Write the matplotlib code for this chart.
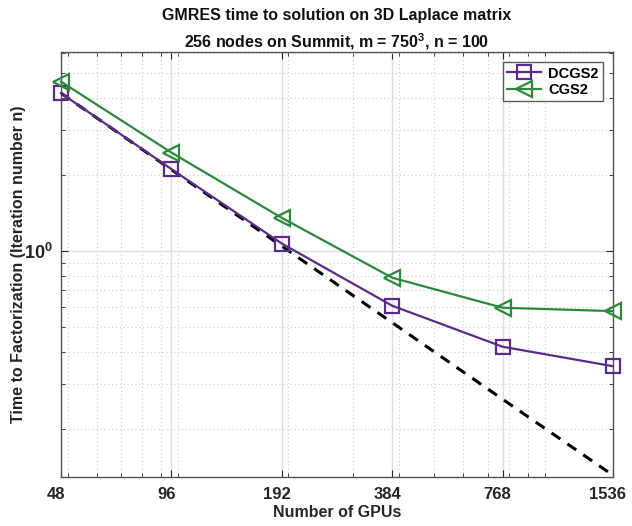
import numpy as np
import matplotlib
matplotlib.use('Agg')
import matplotlib.pyplot as plt
from matplotlib import ticker, transforms

plt.rcParams['font.family'] = ['Liberation Sans', 'DejaVu Sans']
plt.rcParams['font.weight'] = 'bold'
plt.rcParams['mathtext.fontset'] = 'custom'
plt.rcParams['mathtext.rm'] = 'Liberation Sans'
plt.rcParams['mathtext.bf'] = 'Liberation Sans:bold'

# values
gpus = [48, 96, 192, 384, 768, 1536]
dcgs2 = [4.18, 2.10, 1.07, 0.609, 0.42, 0.352]
cgs2 = [4.64, 2.44, 1.35, 0.785, 0.598, 0.58]
ideal = [4.18, 2.09, 1.045, 0.5225, 0.261, 0.131]
xticklabels = ['48', '96', '192', '384', '768', '1536']

purple = '#5b2a8c'
green = '#2b8a3a'

fig = plt.figure(figsize=(6.32, 5.26), dpi=100)
ax = fig.add_axes([61/632, 49/526, 552/632, 425/526])
ax.set_xscale('log')
ax.set_yscale('log')

ax.plot(gpus, ideal, '--', color='k', lw=2.2, dashes=(3.5, 2.8), zorder=3)
ax.plot(gpus, dcgs2, '-s', color=purple, lw=1.6, ms=10, mfc='none', mew=1.6,
        label='DCGS2', clip_on=False, zorder=4)
ax.plot(gpus, cgs2, '-<', color=green, lw=1.6, ms=12, mfc='none', mew=1.6,
        label='CGS2', clip_on=False, zorder=4)

ax.set_xlim(48, 1536)
ax.set_ylim(0.129, 6.07)

ax.xaxis.set_major_locator(ticker.FixedLocator(gpus))
ax.xaxis.set_major_formatter(ticker.FixedFormatter(xticklabels))
ax.xaxis.set_minor_locator(ticker.LogLocator(base=10, subs=np.arange(1, 10), numticks=20))
ax.xaxis.set_minor_formatter(ticker.NullFormatter())
ax.yaxis.set_major_locator(ticker.FixedLocator([1.0]))
ax.yaxis.set_major_formatter(ticker.FixedFormatter([r'$\mathbf{10^0}$']))
ax.yaxis.set_minor_locator(ticker.LogLocator(base=10, subs=np.arange(1, 10), numticks=20))
ax.yaxis.set_minor_formatter(ticker.NullFormatter())

ax.grid(True, which='major', color='#dedede', lw=1.0, ls='-')
ax.grid(True, which='minor', color='#cccccc', lw=0.8, ls=(0, (1, 2.5)))
ax.set_axisbelow(True)

for s in ax.spines.values():
    s.set_color('#555555')
    s.set_linewidth(1.0)
ax.tick_params(which='both', direction='in', top=True, right=True, colors='#262626',
               labelsize=12)
ax.tick_params(axis='x', pad=7)
ax.tick_params(axis='y', pad=6, labelsize=13)
ax.tick_params(which='major', length=5)
ax.tick_params(which='minor', length=3)

# shift x tick labels slightly left like the source
off = transforms.ScaledTranslation(-5/100, 0, fig.dpi_scale_trans)
for lab in ax.get_xticklabels():
    lab.set_transform(lab.get_transform() + off)
    lab.set_fontweight('bold')

ax.set_xlabel('Number of GPUs', fontsize=11.5, fontweight='bold', color='#262626')
ax.set_ylabel('Time to Factorization (Iteration number n)', fontsize=11.5,
              fontweight='bold', color='#262626')
ax.xaxis.set_label_coords(0.5, -0.066)
ax.yaxis.set_label_coords(-0.063, 0.5)
ax.set_title('GMRES time to solution on 3D Laplace matrix\n'
             r'256 nodes on Summit, m = 750$^\mathbf{3}$, n = 100',
             fontsize=11.5, fontweight='bold', color='#111111', linespacing=1.5, pad=2.5)

leg = ax.legend(loc='upper right', fontsize=10.5, frameon=True, fancybox=False,
                edgecolor='#333333', handlelength=2.3, borderaxespad=0.7,
                borderpad=0.3, labelspacing=0.15, handletextpad=0.5)
leg.get_frame().set_linewidth(1.0)
for t in leg.get_texts():
    t.set_fontweight('bold')

fig.savefig('out.png', dpi=100)
